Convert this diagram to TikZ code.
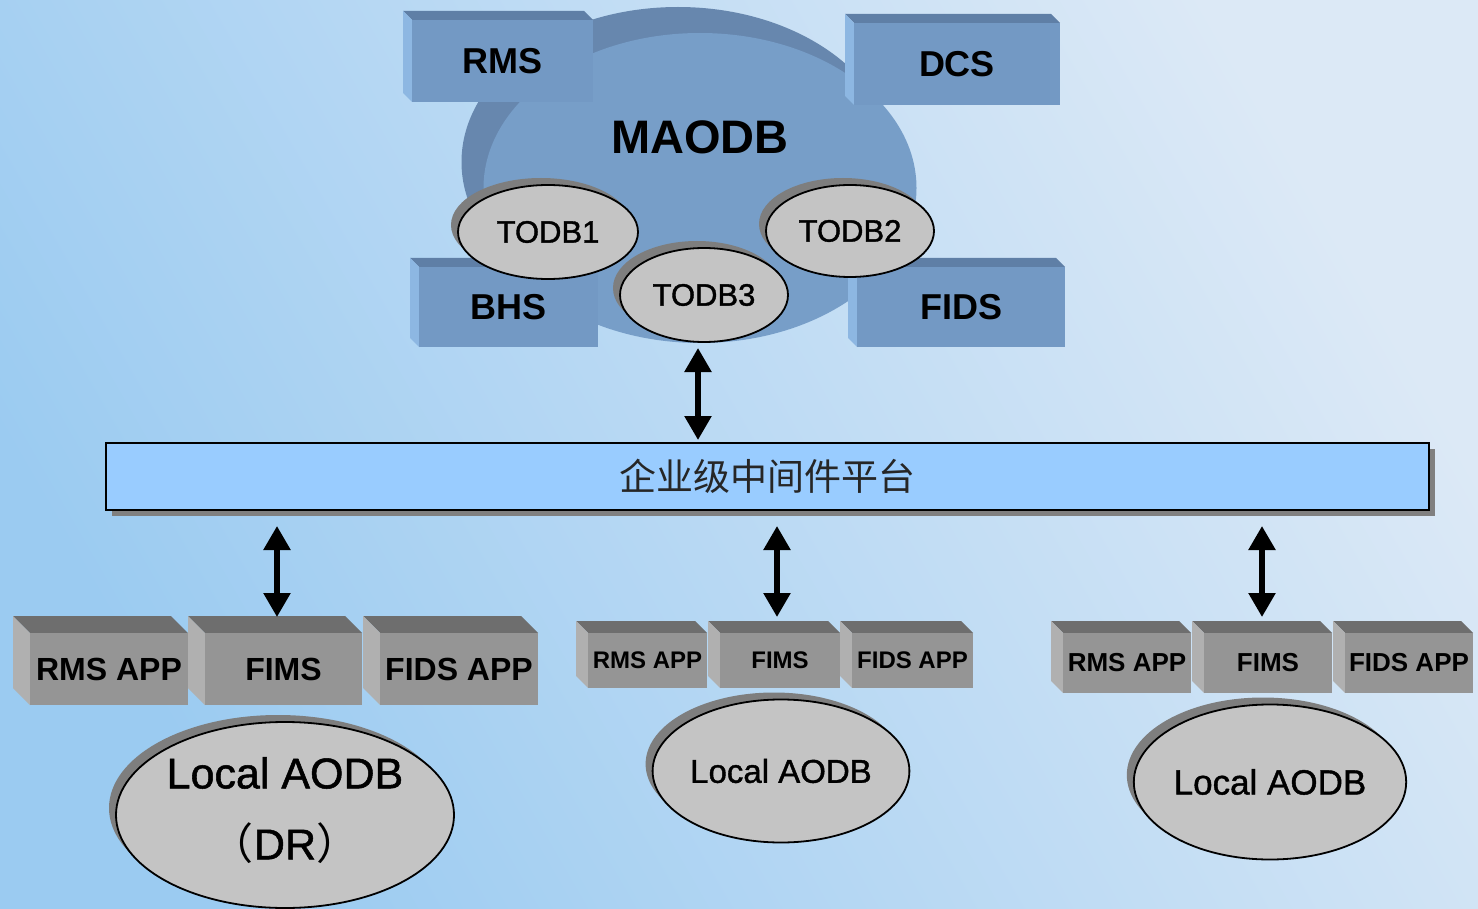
\documentclass[tikz,border=0pt]{standalone}
\usepackage{fontspec}
\setmainfont{Liberation Sans}
\newfontfamily\medfont[FakeBold=1.2]{Liberation Sans}
\newfontfamily\cjk{Noto Sans CJK SC}
\usetikzlibrary{shapes.geometric,shadows,arrows.meta}
\definecolor{bgUR}{HTML}{DCE9F6}
\definecolor{bgLL}{HTML}{9BCBF1}
\definecolor{circblue}{HTML}{779EC8}
\definecolor{circdark}{HTML}{6787AE}
\definecolor{blueF}{HTML}{7399C4}
\definecolor{bluetop}{HTML}{5F7FA6}
\definecolor{blueside}{HTML}{8DB7E2}
\definecolor{grayF}{HTML}{959595}
\definecolor{graytop}{HTML}{6E6E6E}
\definecolor{grayside}{HTML}{B0B0B0}
\definecolor{ellfill}{HTML}{C4C4C4}
\definecolor{ellshadow}{HTML}{7E7E7E}
\definecolor{barblue}{HTML}{99CCFF}
\newcommand\fsz[1]{\fontsize{#1}{#1}\selectfont}
\tikzset{
  blueface/.style={fill=blueF, inner sep=0pt, outer sep=0pt},
  grayface/.style={fill=grayF, inner sep=0pt, outer sep=0pt},
  dbarrow/.style={line width=5.5pt, {Triangle[width=26pt,length=24pt]}-{Triangle[width=26pt,length=24pt]}},
  dbell/.style={ellipse, fill=ellfill, draw=black, line width=1.8pt, inner sep=0pt,
    drop shadow={shadow xshift=-7pt, shadow yshift=7pt, fill=ellshadow, opacity=1}},
}
% #1 name, #2 x1, #3 y1, #4 x2, #5 y2, #6 depth, #7 blue|gray, #8 font size, #9 text
\newcommand\cubebox[9]{%
  \fill[#7top] (#2,#3) -- (#4,#3) -- (#4-#6,#3-#6) -- (#2-#6,#3-#6) -- cycle;
  \fill[#7side] (#2,#3) -- (#2,#5) -- (#2-#6,#5-#6) -- (#2-#6,#3-#6) -- cycle;
  \node[#7face, minimum width={(#4-#2)*1pt}, minimum height={(#5-#3)*1pt}, font=\fsz{#8}\bfseries]
    (#1) at ({(#2+#4)/2},{(#3+#5)/2}) {#9};
}
\begin{document}
\begin{tikzpicture}[x=1pt,y=-1pt]
\useasboundingbox (0,0) rectangle (1478,909);
\shade[left color=bgLL, right color=bgUR, shading angle=120] (0,0) rectangle (1478,909);

% MAODB circle
\node[ellipse, fill=circblue, inner sep=0pt, minimum width=433pt, minimum height=310pt,
  drop shadow={shadow xshift=-22pt, shadow yshift=26pt, fill=circdark, opacity=1}] (maodb) at (700,188) {};
\node[font=\fsz{47}\bfseries] (maodbtxt) at (700,137) {MAODB};

% blue boxes
\cubebox{rms}{412}{20}{593}{102}{9}{blue}{36}{RMS}
\cubebox{dcs}{854}{23}{1060}{105}{9}{blue}{36}{DCS}
\cubebox{bhs}{419}{267}{598}{347}{9}{blue}{36}{BHS}
\cubebox{fids}{857}{267}{1065}{347}{9}{blue}{36}{FIDS}

% TODB ellipses
\node[dbell, minimum width=180pt, minimum height=94pt, font=\medfont\fsz{31}] (todb1) at (548,232) {TODB1};
\node[dbell, minimum width=168pt, minimum height=92pt, font=\medfont\fsz{31}] (todb2) at (850,231) {TODB2};
\node[dbell, minimum width=168pt, minimum height=94pt, font=\medfont\fsz{31}] (todb3) at (704,295) {TODB3};

% middleware bar
\node[fill=barblue, draw=black, line width=2pt, minimum width=1323pt, minimum height=67pt, inner sep=0pt,
  drop shadow={shadow xshift=6pt, shadow yshift=-6pt, fill=gray, opacity=1},
  font=\cjk\fsz{37}, text=black!85] (bar) at (767.5,476.5) {企业级中间件平台};

% arrow MAODB <-> bar
\coordinate (a0) at (698,348);
\draw[dbarrow, shorten >=2pt] (a0) -- (a0 |- bar.north);

% group 1
\cubebox{rmsA}{30}{633}{188}{705}{17}{gray}{32}{RMS APP}
\cubebox{fimsA}{205}{633}{362}{705}{17}{gray}{32}{FIMS}
\cubebox{fidsA}{380}{633}{538}{705}{17}{gray}{32}{FIDS APP}
\node[dbell, minimum width=338pt, minimum height=186pt] (lA) at (285,815) {};
\node[font=\medfont\fsz{43}] (lAt1) at (285,773) {Local AODB};
\node[font=\medfont\fsz{43}] (lAt2) at (285,843) {{\cjk （}DR{\cjk ）}};

% group 2
\cubebox{rmsB}{588}{633}{707}{688}{12}{gray}{24}{RMS APP}
\cubebox{fimsB}{720}{633}{840}{688}{12}{gray}{24}{FIMS}
\cubebox{fidsB}{852}{633}{973}{688}{12}{gray}{24}{FIDS APP}
\node[dbell, minimum width=254pt, minimum height=143pt, font=\medfont\fsz{33}] (lB) at (781,771) {Local AODB};

% group 3
\cubebox{rmsC}{1063}{633}{1191}{693}{12}{gray}{26}{RMS APP}
\cubebox{fimsC}{1204}{633}{1332}{693}{12}{gray}{26}{FIMS}
\cubebox{fidsC}{1345}{633}{1473}{693}{12}{gray}{26}{FIDS APP}
\node[dbell, minimum width=272pt, minimum height=155pt, font=\medfont\fsz{35}] (lC) at (1270,782) {Local AODB};

% arrows bar <-> groups
\coordinate (t1) at (277,617);
\coordinate (t2) at (777,617);
\coordinate (t3) at (1262,617);
\draw[dbarrow, shorten <=15pt] (t1 |- bar.south) -- (t1);
\draw[dbarrow, shorten <=15pt] (t2 |- bar.south) -- (t2);
\draw[dbarrow, shorten <=15pt] (t3 |- bar.south) -- (t3);
\end{tikzpicture}
\end{document}
